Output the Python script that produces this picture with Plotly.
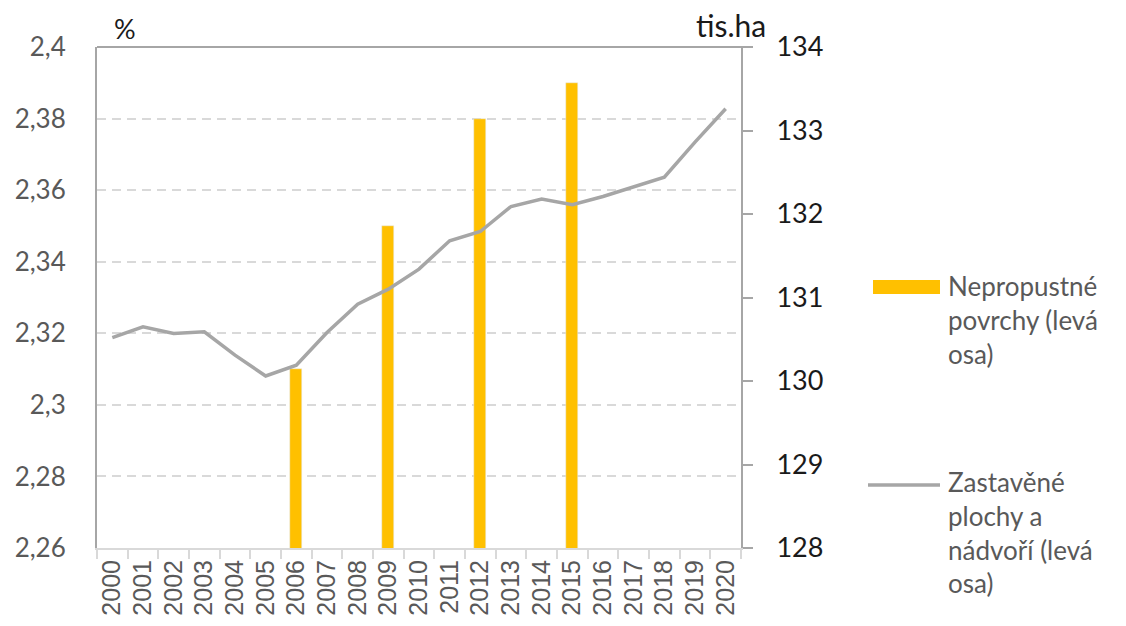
import plotly.graph_objects as go

years = [str(y) for y in range(2000, 2021)]
bar_years = ["2006", "2009", "2012", "2015"]
bar_values = [2.31, 2.35, 2.38, 2.39]
line_values = [130.52, 130.65, 130.57, 130.59, 130.31, 130.06, 130.19, 130.58,
               130.92, 131.10, 131.34, 131.68, 131.79, 132.09, 132.18, 132.11,
               132.21, 132.32, 132.44, 132.86, 133.26]
left_ticks = [2.26, 2.28, 2.30, 2.32, 2.34, 2.36, 2.38, 2.40]
left_labels = ["2,26", "2,28", "2,3", "2,32", "2,34", "2,36", "2,38", "2,4"]
right_ticks = [128, 129, 130, 131, 132, 133, 134]
bar_name = "Nepropustné<br>povrchy (levá<br>osa)"
line_name = "Zastavěné<br>plochy a<br>nádvoří (levá<br>osa)"

ORANGE = "#ffc000"
LGRAY = "#a6a6a6"
GRID = "#d9d9d9"
TXT = "#595959"
FONT = "Lato"

fig = go.Figure()
fig.add_trace(go.Bar(x=bar_years, y=bar_values, marker_color=ORANGE, width=0.4,
                     name="Nepropustné povrchy (levá osa)", showlegend=False))
fig.add_trace(go.Scatter(x=years, y=line_values, yaxis="y2", mode="lines",
                         line=dict(color=LGRAY, width=3.5),
                         name="Zastavěné plochy a nádvoří (levá osa)", showlegend=False))

L, R, T, B = 97, 741, 47, 548
W, H = 1126, 626
pw, ph = R - L, B - T

def px(x):
    return (x - L) / pw

def py(y):
    return (B - y) / ph

fig.update_layout(
    width=W, height=H,
    margin=dict(l=L, r=W - R, t=T, b=H - B, pad=0, autoexpand=False),
    paper_bgcolor="white", plot_bgcolor="white",
    font=dict(family=FONT, color=TXT),
    bargap=0,
    xaxis=dict(type="category", categoryorder="array", categoryarray=years,
               range=[-0.5, 20.5], showgrid=False, showline=True, linecolor=GRID,
               linewidth=2, ticks="outside", tickson="boundaries", ticklen=9,
               tickcolor=GRID, tickwidth=2, tickangle=-90, automargin=False,
               tickfont=dict(family="Liberation Sans", size=25, color=TXT)),
    yaxis=dict(range=[2.26, 2.40], tickvals=left_ticks, ticktext=left_labels,
               showgrid=True, gridcolor=GRID, gridwidth=2, griddash="9px,6px",
               showline=True, linecolor=LGRAY, linewidth=2, zeroline=False,
               ticks="", ticklabelstandoff=24, automargin=False,
               tickfont=dict(family=FONT, size=26, color=TXT)),
    yaxis2=dict(range=[128, 134], tickvals=right_ticks, overlaying="y", side="right",
                showgrid=False, showline=True, linecolor=LGRAY, linewidth=2,
                zeroline=False, ticks="outside", ticklen=10, tickcolor=LGRAY,
                tickwidth=2, ticklabelstandoff=18, automargin=False,
                tickfont=dict(family=FONT, size=27, color="#1a1a1a")),
)

# top border of plot area
fig.add_shape(type="line", xref="paper", yref="paper", x0=0, x1=px(752), y0=1, y1=1,
              line=dict(color=LGRAY, width=2))

# unit labels
fig.add_annotation(xref="paper", yref="paper", x=px(125), y=py(28), text="%",
                   xanchor="center", yanchor="middle",
                   showarrow=False, font=dict(family=FONT, size=27, color="#1a1a1a"))
fig.add_annotation(xref="paper", yref="paper", x=px(731), y=py(25), text="tis.ha",
                   xanchor="center", yanchor="middle",
                   showarrow=False, font=dict(family=FONT, size=30, color="#1a1a1a"))

# legend (manual)
fig.add_shape(type="rect", xref="paper", yref="paper", x0=px(873), x1=px(940),
              y0=py(294), y1=py(280), fillcolor=ORANGE, line=dict(width=0))
fig.add_annotation(xref="paper", yref="paper", x=px(946), y=py(268), text=bar_name,
                   showarrow=False, xanchor="left", yanchor="top", align="left",
                   font=dict(family=FONT, size=26, color=TXT))
fig.add_shape(type="line", xref="paper", yref="paper", x0=px(868), x1=px(940),
              y0=py(485), y1=py(485), line=dict(color=LGRAY, width=3.5))
fig.add_annotation(xref="paper", yref="paper", x=px(946), y=py(464), text=line_name,
                   showarrow=False, xanchor="left", yanchor="top", align="left",
                   font=dict(family=FONT, size=26, color=TXT))

fig.write_html("out.html", config={"displayModeBar": False},
               post_script="document.body.style.margin='0';document.body.style.overflow='hidden';")
